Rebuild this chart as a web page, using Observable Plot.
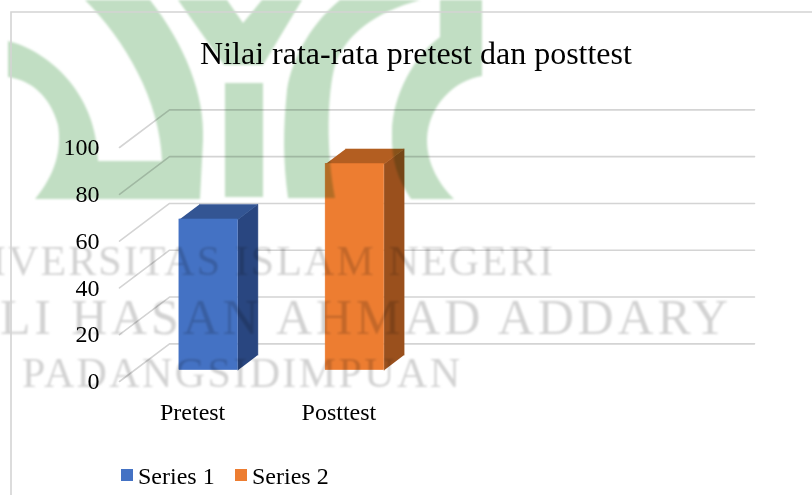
<!DOCTYPE html>
<html>
<head>
<meta charset="utf-8">
<script src="https://cdn.jsdelivr.net/npm/d3@7"></script>
<script src="https://cdn.jsdelivr.net/npm/@observablehq/plot@0.6"></script>
<style>
  html, body { margin: 0; padding: 0; background: #fff; overflow: hidden; }
  #page { position: relative; width: 812px; height: 495px; overflow: hidden; font-family: "Liberation Serif", serif; color: #000; }
  #title { height: 90px; line-height: 106px; font-size: 32px; text-align: center; padding-left: 20px; box-sizing: border-box; }
  #chart { height: 370px; }
  #chart svg { display: block; background: transparent; }
  #legend { height: 35px; position: relative; font-size: 24px; }
  #legend .sw { position: absolute; top: 9px; width: 12px; height: 12px; }
  #legend .lb { position: absolute; top: 2px; line-height: 28px; }
  #overlay { position: absolute; left: 0; top: 0; mix-blend-mode: multiply; pointer-events: none; }
</style>
</head>
<body>
<div id="page">
  <div id="title"></div>
  <div id="chart"></div>
  <div id="legend"></div>
  <svg id="overlay" width="812" height="495" viewBox="0 0 812 495">
    <defs><filter id="soft"><feGaussianBlur stdDeviation="0.8"/></filter></defs>
    <g fill="#c1dec3" filter="url(#soft)">
      <path d="M8,41 C45,50 97,90 98,161 L162,161 C160,100 125,40 85,0 L150,0 C185,45 205,95 203,140 L200,199 L35,199 C55,175 62,150 58,125 C50,95 30,80 8,77 Z"/>
      <path d="M178,0 L227,0 L243,23 L262,0 L302,0 L263,65 L224,65 Z"/>
      <path d="M225,83 H263 V197 H225 Z"/>
      <path d="M340,0 L420,0 C375,12 345,35 335,65 C327,95 326,150 335,198 L288,198 C283,160 283,130 287,90 C292,55 315,20 340,0 Z"/>
      <path d="M440,0 L482,0 L482,76 C455,80 428,105 427,140 C427,165 440,185 454,199 L411,199 C398,180 391,160 392,133 C392,95 415,55 440,37 Z"/>
    </g>
    <g fill="#d2d2d2" font-family="Liberation Serif" filter="url(#soft)">
      <text x="-73" y="275" font-size="42" textLength="626" lengthAdjust="spacing">UNIVERSITAS ISLAM NEGERI</text>
      <text x="-40" y="334" font-size="50" textLength="768" lengthAdjust="spacing">ALI HASAN AHMAD ADDARY</text>
      <text x="22" y="387" font-size="42" textLength="438" lengthAdjust="spacing">PADANGSIDIMPUAN</text>
    </g>
    <path d="M812,12 H11 V495" fill="none" stroke="#d4d4d4" stroke-width="1.6"/>
  </svg>
</div>
<script>
const titleText = "Nilai rata-rata pretest dan posttest";
const categories = ["Pretest", "Posttest"];
const seriesNames = ["Series 1", "Series 2"];
const values = [64.4, 88.1];
const yTicks = [0, 20, 40, 60, 80, 100];
const frontColors = ["#4472c4", "#ed7d31"];
const topColors = ["#335593", "#b35e21"];
const sideColors = ["#294680", "#9a501d"];

// Office-style oblique 3D: d runs from the front of the floor (0) to the back wall (1)
const depthX = 0.342, depthY = 16.1, barWidth = 0.4, barFront = 0.32, barBack = 0.72;
const px = (x, d) => x + d * depthX;
const py = (v, d) => v + d * depthY;

const grid = yTicks.flatMap(v => [
  {v, x: px(0, 0), y: py(v, 0)},
  {v, x: px(0, 1), y: py(v, 1)},
  {v, x: px(4, 1), y: py(v, 1)}
]);

const barMarks = categories.flatMap((c, i) => {
  const v = values[i] - 0.3, l = i + 0.5 - barWidth / 2, r = l + barWidth;
  const front = [{x1: px(l, barFront), x2: px(r, barFront), y1: py(-0.3, barFront), y2: py(v, barFront)}];
  const top = [[l, barFront], [r, barFront], [r, barBack], [l, barBack]].map(([x, d]) => ({x: px(x, d), y: py(v, d)}));
  const side = [[-0.3, barFront], [v, barFront], [v, barBack], [-0.3, barBack]].map(([u, d]) => ({x: px(r, d), y: py(u, d)}));
  return [
    Plot.line(side, {x: "x", y: "y", fill: sideColors[i], stroke: sideColors[i], strokeWidth: 0.5}),
    Plot.line(top, {x: "x", y: "y", fill: topColors[i], stroke: topColors[i], strokeWidth: 0.5}),
    Plot.rect(front, {x1: "x1", x2: "x2", y1: "y1", y2: "y2", fill: frontColors[i], stroke: frontColors[i], strokeWidth: 0.5})
  ];
});

const plot = Plot.plot({
  width: 812, height: 370,
  marginLeft: 119, marginRight: 108, marginTop: 57, marginBottom: 79,
  style: {fontFamily: "Liberation Serif", fontSize: "24px", color: "#000", background: "transparent", overflow: "visible"},
  x: {domain: [0, 4], range: [119, 704], axis: null},
  y: {domain: [0, 100], axis: null},
  marks: [
    Plot.line(grid, {x: "x", y: "y", z: "v", stroke: "#d4d4d4", strokeWidth: 1.6}),
    ...barMarks,
    Plot.axisY({ticks: yTicks, tickSize: 0, tickPadding: 20, label: null, fontSize: 24, anchor: "left"}),
    Plot.axisX({ticks: [0.5, 1.5], tickFormat: d => categories[Math.floor(d)], tickSize: 0, tickPadding: 21, label: null, fontSize: 24, anchor: "bottom"})
  ]
});
document.getElementById("title").textContent = titleText;
document.getElementById("chart").appendChild(plot);

const legend = document.getElementById("legend");
const swatchLeft = [121, 235];
seriesNames.forEach((name, i) => {
  const sw = document.createElement("div");
  sw.className = "sw"; sw.style.left = swatchLeft[i] + "px"; sw.style.background = frontColors[i];
  const lb = document.createElement("div");
  lb.className = "lb"; lb.style.left = (swatchLeft[i] + 17) + "px"; lb.textContent = name;
  legend.append(sw, lb);
});
</script>
</body>
</html>
